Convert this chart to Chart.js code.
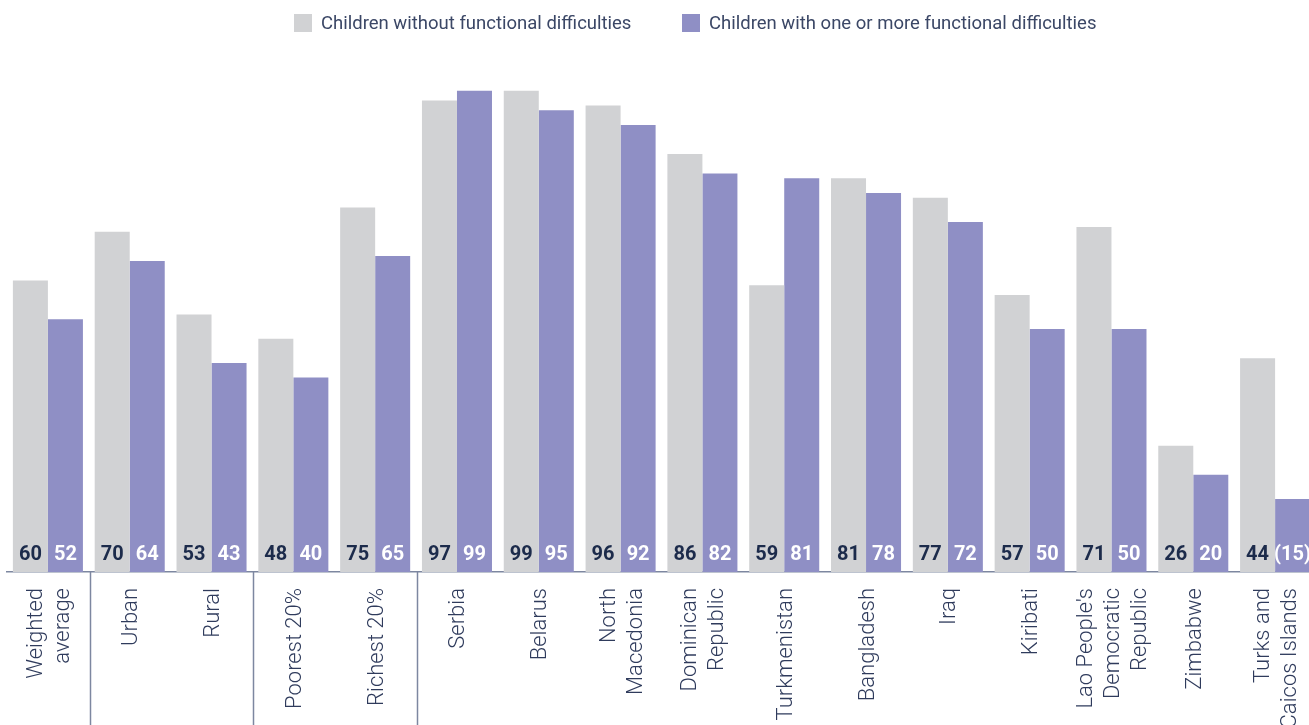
<!DOCTYPE html>
<html>
<head>
<meta charset="utf-8">
<script src="https://cdn.jsdelivr.net/npm/chart.js@4.4.1/dist/chart.umd.min.js"></script>
<style>
  html, body { margin: 0; padding: 0; background: #fff; overflow: hidden; }
  #wrap { position: relative; width: 1309px; height: 725px; overflow: hidden; }
  #chart { position: absolute; left: 0; top: 0; }
  .legend-item { position: absolute; top: 14px; display: flex; align-items: center;
                 font: 18.5px Roboto, "Liberation Sans", sans-serif; color: #3b4766; line-height: 18px; white-space: nowrap; }
  .legend-item i { display: inline-block; width: 18px; height: 18px; margin-right: 9px; }
</style>
</head>
<body>
<div id="wrap">
  <canvas id="chart" width="1320" height="725"></canvas>
  <div class="legend-item" style="left:294px"><i style="background:#d1d2d4"></i><span>Children without functional difficulties</span></div>
  <div class="legend-item" style="left:682px"><i style="background:#8f8fc5"></i><span>Children with one or more functional difficulties</span></div>
</div>
<script>
// --- DATA ---
const categories = [
    ['Weighted', 'average'], 'Urban', 'Rural', 'Poorest 20%', 'Richest 20%',
    'Serbia', 'Belarus', ['North', 'Macedonia'], ['Dominican', 'Republic'],
    'Turkmenistan', 'Bangladesh', 'Iraq', 'Kiribati',
    ["Lao People's", 'Democratic', 'Republic'], 'Zimbabwe', ['Turks and', 'Caicos Islands']
];
const withoutDifficulties = [60, 70, 53, 48, 75, 97, 99, 96, 86, 59, 81, 77, 57, 71, 26, 44];
const withDifficulties = [52, 64, 43, 40, 65, 99, 95, 92, 82, 81, 78, 72, 50, 50, 20, 15];
const withLabels = ['52', '64', '43', '40', '65', '99', '95', '92', '82', '81', '78', '72', '50', '50', '20', '(15)'];
const separatorsAfter = [0, 2, 4];

// --- COLOURS ---
const GREY = '#d1d2d4';
const PURPLE = '#8f8fc5';
const NAVY = '#1c2b4b';
const LINE = '#7d87a0';
const LABEL = '#2f3b5c';

// category names under the axis (rotated, lines centred on the tick) + group separators
const axisLabels = {
    id: 'axisLabels',
    afterDraw(chart) {
        const { ctx, chartArea } = chart;
        const x = chart.scales.x;
        ctx.save();
        ctx.strokeStyle = LINE;
        ctx.lineWidth = 1.5;
        separatorsAfter.forEach(i => {
            const px = Math.round((x.getPixelForValue(i) + x.getPixelForValue(i + 1)) / 2) + 1.5;
            ctx.beginPath();
            ctx.moveTo(px, chartArea.bottom);
            ctx.lineTo(px, chart.height);
            ctx.stroke();
        });

        ctx.font = '300 22px Roboto, "Liberation Sans", sans-serif';
        ctx.fillStyle = LABEL;
        ctx.textAlign = 'right';
        ctx.textBaseline = 'middle';
        const lh = 27;
        categories.forEach((cat, i) => {
            const lines = Array.isArray(cat) ? cat : [cat];
            const px = x.getPixelForValue(i) + 2;
            lines.forEach((line, j) => {
                const cx = px + (j - (lines.length - 1) / 2) * lh;
                ctx.save();
                ctx.translate(cx, chartArea.bottom + 16);
                ctx.rotate(-Math.PI / 2);
                ctx.fillText(line, 0, 0);
                ctx.restore();
            });
        });
        ctx.restore();
    }
};

// numbers at the foot of each bar
const barValues = {
    id: 'barValues',
    afterDatasetsDraw(chart) {
        const { ctx, chartArea } = chart;
        ctx.save();
        ctx.font = 'bold 20px Roboto, "Liberation Sans", sans-serif';
        ctx.textAlign = 'center';
        ctx.textBaseline = 'middle';
        chart.data.datasets.forEach((ds, di) => {
            const meta = chart.getDatasetMeta(di);
            meta.data.forEach((bar, i) => {
                ctx.fillStyle = di === 0 ? NAVY : '#ffffff';
                const txt = di === 0 ? String(ds.data[i]) : withLabels[i];
                ctx.fillText(txt, bar.x, chartArea.bottom - 17);
            });
        });
        ctx.restore();
    }
};

new Chart(document.getElementById('chart'), {
    type: 'bar',
    data: {
        labels: categories,
        datasets: [
            { label: 'Children without functional difficulties', data: withoutDifficulties, backgroundColor: GREY },
            { label: 'Children with one or more functional difficulties', data: withDifficulties, backgroundColor: PURPLE }
        ]
    },
    options: {
        responsive: false,
        animation: false,
        layout: { padding: { left: 7, right: 4, top: 86, bottom: 0 } },
        categoryPercentage: 0.856,
        barPercentage: 1,
        plugins: {
            legend: { display: false },
            tooltip: { enabled: false }
        },
        scales: {
            x: {
                grid: { display: false },
                border: { display: true, color: LINE, width: 1.5 },
                ticks: { display: false },
                afterFit(scale) { scale.height = 153; }
            },
            y: {
                display: false,
                min: 0,
                max: 100
            }
        }
    },
    plugins: [axisLabels, barValues]
});
</script>
</body>
</html>
